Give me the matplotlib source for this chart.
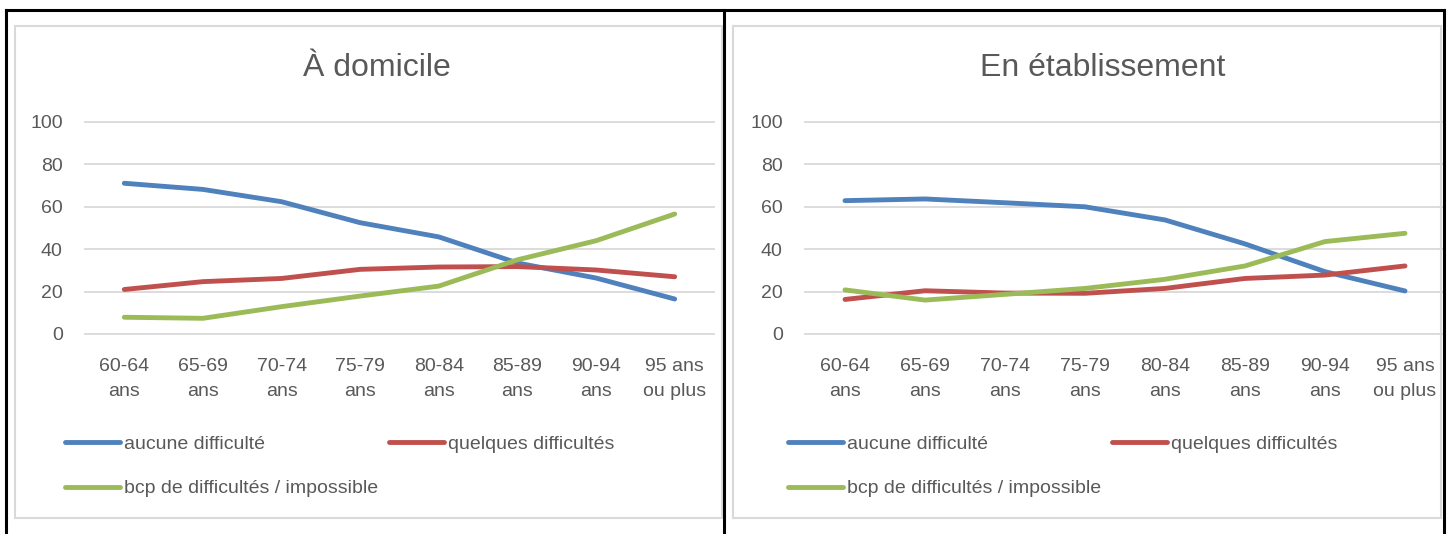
import matplotlib
matplotlib.use("Agg")
import matplotlib.pyplot as plt
from matplotlib.lines import Line2D
from matplotlib.patches import Rectangle

categories = ["60-64\nans", "65-69\nans", "70-74\nans", "75-79\nans",
              "80-84\nans", "85-89\nans", "90-94\nans", "95 ans\nou plus"]
series_names = ["aucune difficulté", "quelques difficultés", "bcp de difficultés / impossible"]

domicile_aucune = [71.1, 68.2, 62.4, 52.5, 45.8, 33.5, 26.4, 16.5]
domicile_quelques = [21.0, 24.7, 26.2, 30.5, 31.6, 31.8, 30.2, 27.0]
domicile_bcp = [7.9, 7.4, 12.9, 17.9, 22.6, 35.0, 44.0, 56.6]

etab_aucune = [62.9, 63.7, 61.9, 60.0, 53.8, 42.5, 29.4, 20.3]
etab_quelques = [16.3, 20.4, 19.3, 19.2, 21.5, 26.2, 27.8, 32.1]
etab_bcp = [20.8, 16.0, 18.7, 21.5, 25.8, 32.1, 43.6, 47.5]

yticks = [0, 20, 40, 60, 80, 100]
titles = ["À domicile", "En établissement"]

colors = ["#4F81BD", "#C0504D", "#9BBB59"]
text_color = "#595959"

plt.rcParams["font.family"] = ["Liberation Sans", "DejaVu Sans"]

W, H = 1450, 534
fig = plt.figure(figsize=(W / 100, H / 100), dpi=100)
fig.patch.set_facecolor("white")

def px_rect(x0, y0, x1, y1):
    return [x0 / W, 1 - y1 / H, (x1 - x0) / W, (y1 - y0) / H]

# gray chart-area boxes
for (x0, x1) in [(15, 722), (733, 1441)]:
    r = Rectangle((x0 / W, 1 - 518 / H), (x1 - x0) / W, (518 - 26) / H,
                  transform=fig.transFigure, fill=False, edgecolor="#D9D9D9",
                  linewidth=1.5, zorder=1)
    fig.add_artist(r)

# black table borders
for xs, ys in [([6, 1444], [10, 10]), ([6, 6], [10, 534]),
               ([724, 724], [10, 534]), ([1444, 1444], [10, 534])]:
    fig.add_artist(Line2D([x / W for x in xs], [1 - y / H for y in ys],
                          transform=fig.transFigure, color="black",
                          linewidth=2.2, zorder=5))

fs = 14
title_fs = 23

panels = [
    dict(rect=px_rect(85, 122, 714, 334), data=[domicile_aucune, domicile_quelques, domicile_bcp],
         title_x=377, leg_x=65),
    dict(rect=px_rect(805, 122, 1445, 334), data=[etab_aucune, etab_quelques, etab_bcp],
         title_x=1103, leg_x=788),
]

for p, title in zip(panels, titles):
    ax = fig.add_axes(p["rect"])
    ax.set_facecolor("none")
    x = list(range(len(categories)))
    handles = []
    for vals, c, name in zip(p["data"], colors, series_names):
        h, = ax.plot(x, vals, color=c, linewidth=3.5, solid_capstyle="round",
                     solid_joinstyle="round", label=name, zorder=3)
        handles.append(h)
    ax.set_xlim(-0.5, len(categories) - 0.5)
    ax.set_ylim(0, 100)
    ax.set_yticks(yticks)
    ax.set_yticklabels([str(v) for v in yticks])
    ax.set_xticks(x)
    ax.set_xticklabels(categories, linespacing=1.67)
    ax.grid(axis="y", color="#D9D9D9", linewidth=1.3, zorder=0)
    ax.set_axisbelow(True)
    for s in ax.spines.values():
        s.set_visible(False)
    ax.tick_params(axis="both", length=0, labelsize=fs, colors=text_color)
    ax.tick_params(axis="y", pad=16)
    ax.tick_params(axis="x", pad=17)
    for gl in ax.get_ygridlines():
        gl.set_clip_on(False)

    fig.text(p["title_x"] / W, 1 - 68 / H, title, ha="center", va="center",
             fontsize=title_fs, color=text_color)

    leg = ax.legend([handles[0], handles[2], handles[1]],
                    [series_names[0], series_names[2], series_names[1]],
                    ncol=2, loc="upper left",
                    bbox_to_anchor=(p["leg_x"] / W, 1 - 435 / H),
                    bbox_transform=fig.transFigure,
                    frameon=False, fontsize=fs, handlelength=2.83,
                    handletextpad=0.2, columnspacing=0.57, labelspacing=1.4,
                    borderpad=0, borderaxespad=0)
    for t in leg.get_texts():
        t.set_color(text_color)
    for lh in leg.legend_handles:
        lh.set_linewidth(3.5)
        lh.set_solid_capstyle("round")

fig.savefig("out.png", dpi=100, facecolor="white")
